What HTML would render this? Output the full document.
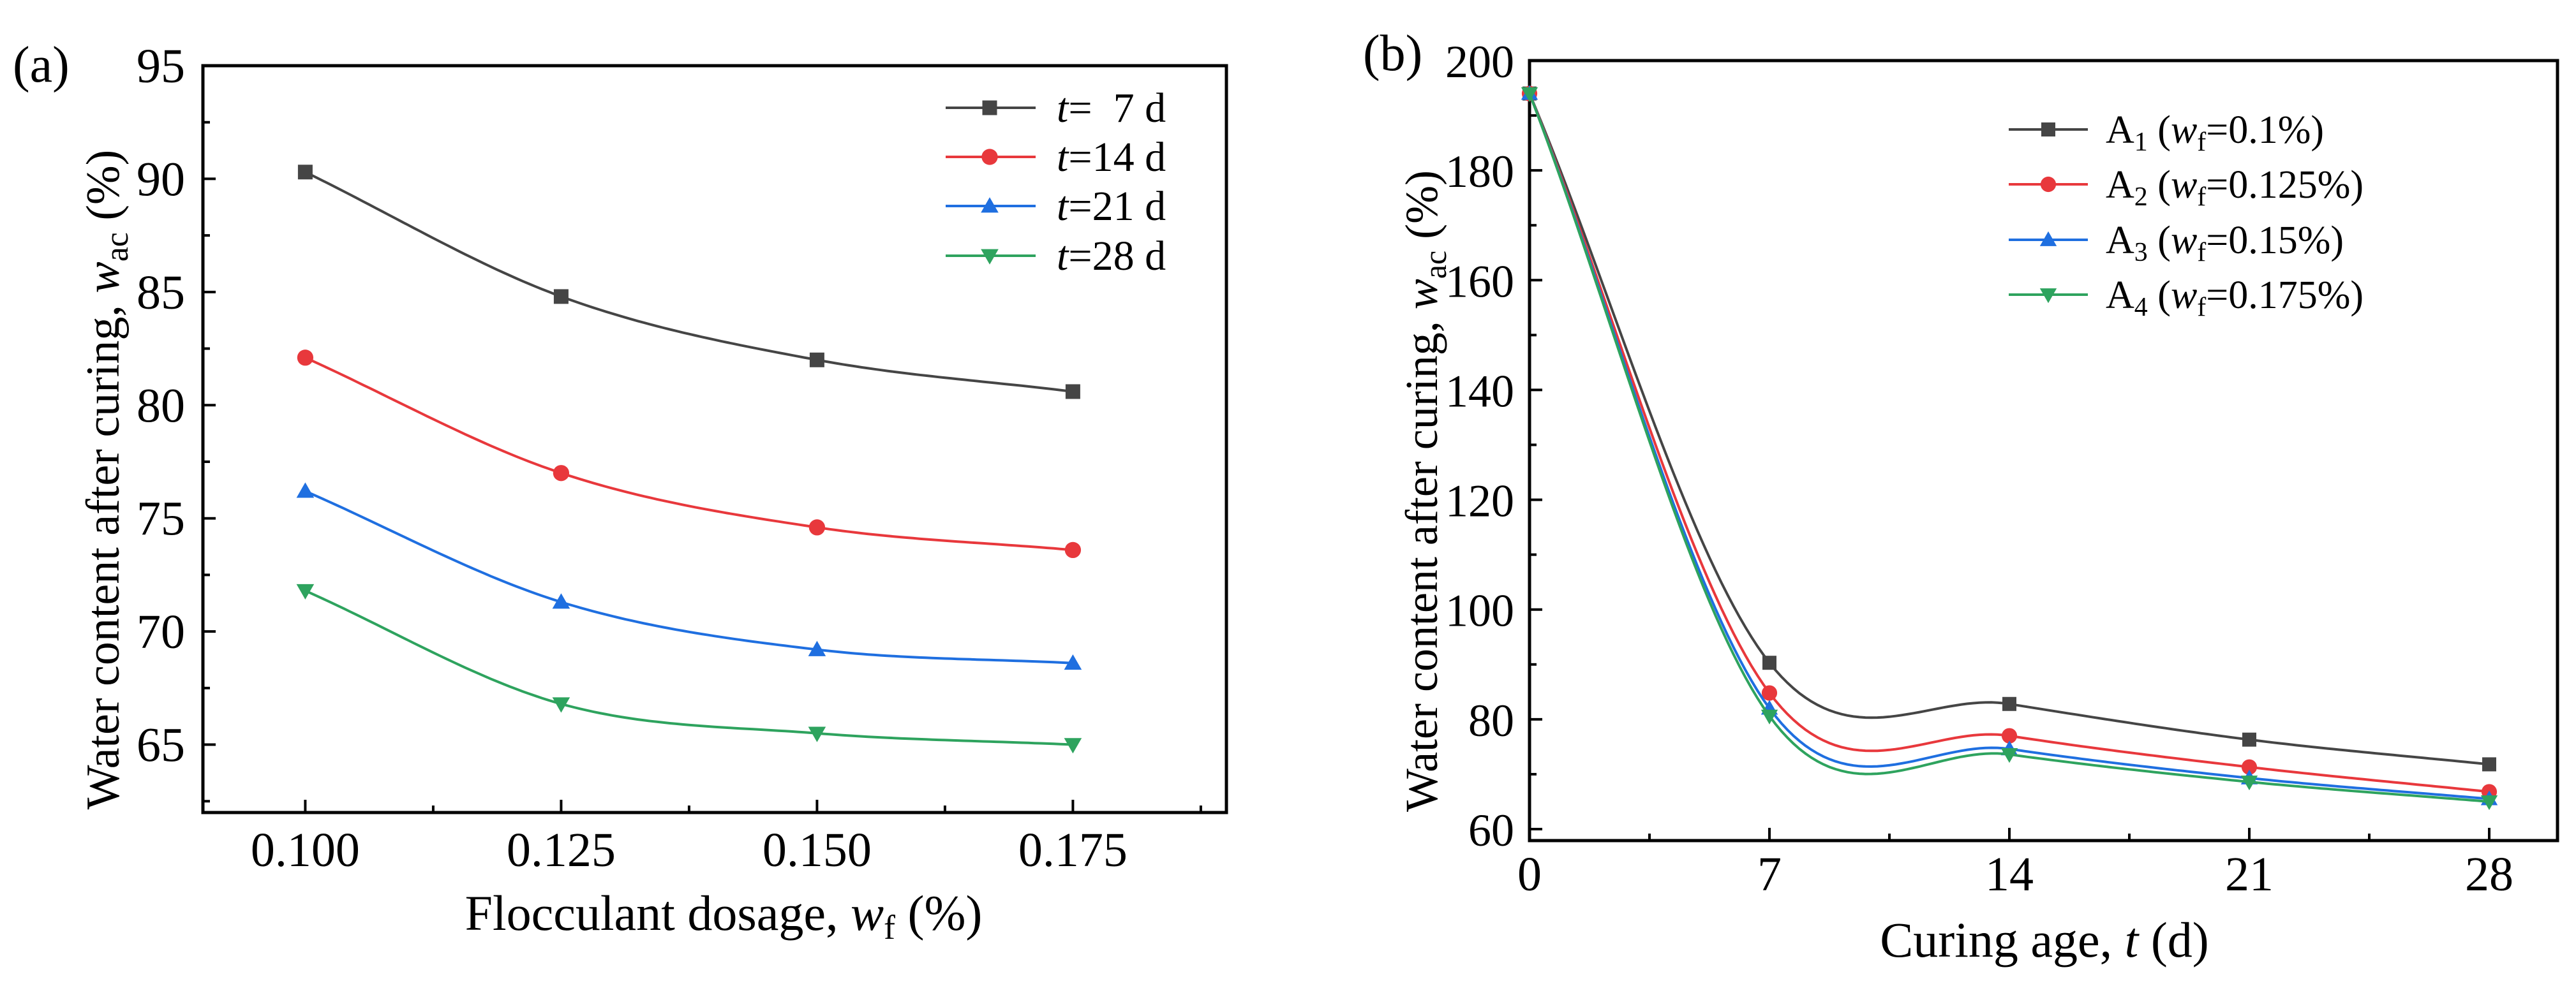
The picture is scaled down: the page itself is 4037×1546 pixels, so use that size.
<!DOCTYPE html>
<html><head><meta charset="utf-8">
<style>
html,body{margin:0;padding:0;background:#fff;}
svg{display:block;font-family:"Liberation Serif",serif;}
</style></head>
<body>
<svg id="chart" width="4037" height="1546" viewBox="0 0 4037 1546">
<g id="pa"></g>
<g id="pb"></g>
</svg>
<script>
// Panel (a) data
const aCategories = [0.100, 0.125, 0.150, 0.175];
const aSeriesNames = ["7", "14", "21", "28"];
const aT7 = [90.3, 84.8, 82.0, 80.6];
const aT14 = [82.1, 77.0, 74.6, 73.6];
const aT21 = [76.2, 71.3, 69.2, 68.6];
const aT28 = [71.8, 66.8, 65.5, 65.0];
const aYTicks = [65, 70, 75, 80, 85, 90, 95];
const aXTicks = ["0.100", "0.125", "0.150", "0.175"];
// Panel (b) data
const bCategories = [0, 7, 14, 21, 28];
const bA1 = [194, 90.3, 82.8, 76.3, 71.8];
const bA2 = [194, 84.8, 77.0, 71.3, 66.8];
const bA3 = [194, 82.0, 74.6, 69.3, 65.5];
const bA4 = [194, 80.6, 73.6, 68.6, 65.0];
const bYTicks = [60, 80, 100, 120, 140, 160, 180, 200];
const bXTicks = [0, 7, 14, 21, 28];
const bLegend = [["1","0.1%"],["2","0.125%"],["3","0.15%"],["4","0.175%"]];

const NS = "http://www.w3.org/2000/svg";
const COLORS = ["#454545", "#e8383c", "#1f6fe0", "#2ea35e"];
const MARKERS = ["square", "circle", "up", "down"];

function mk(parent, tag, attrs) {
  const e = document.createElementNS(NS, tag);
  for (const k in attrs) e.setAttribute(k, attrs[k]);
  parent.appendChild(e);
  return e;
}
// Catmull-Rom style Hermite interpolation
function spline(xs, ys) {
  const n = xs.length, m = [];
  for (let i = 0; i < n; i++) {
    if (i === 0) m.push((ys[1]-ys[0])/(xs[1]-xs[0]));
    else if (i === n-1) m.push((ys[n-1]-ys[n-2])/(xs[n-1]-xs[n-2]));
    else m.push((ys[i+1]-ys[i-1])/(xs[i+1]-xs[i-1]));
  }
  const pts = [];
  for (let j = 0; j < n - 1; j++) {
    const h = xs[j+1]-xs[j];
    for (let k = 0; k <= 40; k++) {
      const s = k/40, s2 = s*s, s3 = s2*s;
      const h00 = 2*s3-3*s2+1, h10 = s3-2*s2+s, h01 = -2*s3+3*s2, h11 = s3-s2;
      pts.push([xs[j]+h*s, h00*ys[j] + h10*h*m[j] + h01*ys[j+1] + h11*h*m[j+1]]);
    }
  }
  return pts;
}
function marker(g, type, x, y, color, s) {
  let e;
  if (type === "square") e = mk(g, "rect", {x: x-s/2, y: y-s/2, width: s, height: s, fill: color});
  else if (type === "circle") e = mk(g, "circle", {cx: x, cy: y, r: s*0.55, fill: color});
  else if (type === "up") e = mk(g, "polygon", {points: `${x},${y-s*0.6} ${x-s*0.6},${y+s*0.45} ${x+s*0.6},${y+s*0.45}`, fill: color});
  else e = mk(g, "polygon", {points: `${x},${y+s*0.6} ${x-s*0.6},${y-s*0.45} ${x+s*0.6},${y-s*0.45}`, fill: color});
  
  
  return e;
}
function txt(g, x, y, s, size, anchor, name) {
  const t = mk(g, "text", {x: x, y: y, "font-size": size, "text-anchor": anchor || "middle", fill: "#000"});
  t.textContent = s;
  
  
  return t;
}

// ---------- Panel A ----------
(function(){
  const g = document.getElementById("pa");
  const L = 318, R = 1922, T = 103, B = 1274;
  const xmin = 0.09, xmax = 0.19, ymin = 62, ymax = 95;
  const X = v => L + (v - xmin)/(xmax - xmin)*(R - L);
  const Y = v => B - (v - ymin)/(ymax - ymin)*(B - T);
  const ax = mk(g, "rect", {x: L, y: T, width: R-L, height: B-T, fill: "none", stroke: "#000", "stroke-width": 5});
  
  
  for (let v = 62.5; v <= 95; v += 2.5) {
    const major = Math.abs(v % 5) < 1e-6;
    const tk = mk(g, "line", {x1: L, x2: L + (major ? 20 : 11), y1: Y(v), y2: Y(v), stroke: "#000", "stroke-width": 4});
    
    
  }
  aYTicks.forEach(v => txt(g, 290, Y(v) + 26, String(v), 76, "end", "y-tick-label"));
  for (let v = 0.1; v <= 0.19; v += 0.0125) {
    const major = Math.round((v - 0.1)/0.0125) % 2 === 0;
    const tk = mk(g, "line", {x1: X(v), x2: X(v), y1: B, y2: B - (major ? 20 : 11), stroke: "#000", "stroke-width": 4});
    
    
  }
  aXTicks.forEach((s, i) => txt(g, X(aCategories[i]), 1358, s, 76, "middle", "x-tick-label"));
  const xt = txt(g, 1134, 1458, "", 78, "middle", "x-axis-title");
  xt.innerHTML = 'Flocculant dosage, <tspan font-style="italic">w</tspan><tspan font-size="54" dy="14">f</tspan><tspan dy="-14"> (%)</tspan>';
  const yt = txt(g, 0, 0, "", 74, "middle", "y-axis-title");
  yt.setAttribute("transform", "translate(186,752) rotate(-90)");
  yt.innerHTML = 'Water content after curing, <tspan font-style="italic">w</tspan><tspan font-size="52" dy="14">ac</tspan><tspan dy="-14"> (%)</tspan>';
  txt(g, 20, 128, "(a)", 80, "start", "panel-label-a");
  const series = [aT7, aT14, aT21, aT28];
  series.forEach((ys, si) => {
    const pts = spline(aCategories, ys);
    const p = mk(g, "polyline", {points: pts.map(p => X(p[0]).toFixed(1) + "," + Y(p[1]).toFixed(1)).join(" "), fill: "none", stroke: COLORS[si], "stroke-width": 4});
    
    
    ys.forEach((v, i) => marker(g, MARKERS[si], X(aCategories[i]), Y(v), COLORS[si], 23));
  });
  const lys = [169, 246, 323, 401];
  aSeriesNames.forEach((n, i) => {
    const ln = mk(g, "line", {x1: 1482, x2: 1623, y1: lys[i], y2: lys[i], stroke: COLORS[i], "stroke-width": 4});
    
    
    marker(g, MARKERS[i], 1551, lys[i], COLORS[i], 23);
    const t = txt(g, 1656, lys[i] + 22, "", 66, "start", "legend-entry-t" + n);
    t.innerHTML = '<tspan font-style="italic">t</tspan>=' + (n.length === 1 ? '\u2002' : '') + n + ' d';
  });
})();

// ---------- Panel B ----------
(function(){
  const g = document.getElementById("pb");
  const L = 2397, R = 4008, T = 95, B = 1318;
  const X = v => L + v/28*(3901 - L);
  const Y = v => 1300 - (v - 60)/(200 - 60)*(1300 - T);
  const ax = mk(g, "rect", {x: L, y: T, width: R-L, height: B-T, fill: "none", stroke: "#000", "stroke-width": 5});
  
  
  for (let v = 60; v <= 200; v += 10) {
    const major = v % 20 === 0;
    const tk = mk(g, "line", {x1: L, x2: L + (major ? 20 : 11), y1: Y(v), y2: Y(v), stroke: "#000", "stroke-width": 4});
    
    
  }
  bYTicks.forEach(v => txt(g, 2373, Y(v) + 26, String(v), 72, "end", "y-tick-label"));
  for (let v = 3.5; v <= 28; v += 3.5) {
    const major = Math.round(v/3.5) % 2 === 0;
    const tk = mk(g, "line", {x1: X(v), x2: X(v), y1: B, y2: B - (major ? 20 : 11), stroke: "#000", "stroke-width": 4});
    
    
  }
  bXTicks.forEach(v => txt(g, X(v), 1396, String(v), 76, "middle", "x-tick-label"));
  const xt = txt(g, 3204, 1500, "", 78, "middle", "x-axis-title");
  xt.innerHTML = 'Curing age, <tspan font-style="italic">t</tspan> (d)';
  const yt = txt(g, 0, 0, "", 72, "middle", "y-axis-title");
  yt.setAttribute("transform", "translate(2252,770) rotate(-90)");
  yt.innerHTML = 'Water content after curing, <tspan font-style="italic">w</tspan><tspan font-size="50" dy="14">ac</tspan><tspan dy="-14"> (%)</tspan>';
  txt(g, 2136, 110, "(b)", 80, "start", "panel-label-b");
  const series = [bA1, bA2, bA3, bA4];
  series.forEach((ys, si) => {
    const pts = spline(bCategories, ys);
    const p = mk(g, "polyline", {points: pts.map(p => X(p[0]).toFixed(1) + "," + Y(p[1]).toFixed(1)).join(" "), fill: "none", stroke: COLORS[si], "stroke-width": 4});
    
    
    ys.forEach((v, i) => marker(g, MARKERS[si], X(bCategories[i]), Y(v), COLORS[si], 22));
  });
  const lys = [203, 289, 376, 462];
  bLegend.forEach((e, i) => {
    const ln = mk(g, "line", {x1: 3148, x2: 3272, y1: lys[i], y2: lys[i], stroke: COLORS[i], "stroke-width": 4});
    
    
    marker(g, MARKERS[i], 3210, lys[i], COLORS[i], 22);
    const t = txt(g, 3300, lys[i] + 21, "", 62, "start", "legend-entry-a" + e[0]);
    t.innerHTML = 'A<tspan font-size="42" dy="12">' + e[0] + '</tspan><tspan dy="-12"> (</tspan><tspan font-style="italic">w</tspan><tspan font-size="42" dy="12">f</tspan><tspan dy="-12">=' + e[1] + ')</tspan>';
  });
})();
</script>
</body></html>
